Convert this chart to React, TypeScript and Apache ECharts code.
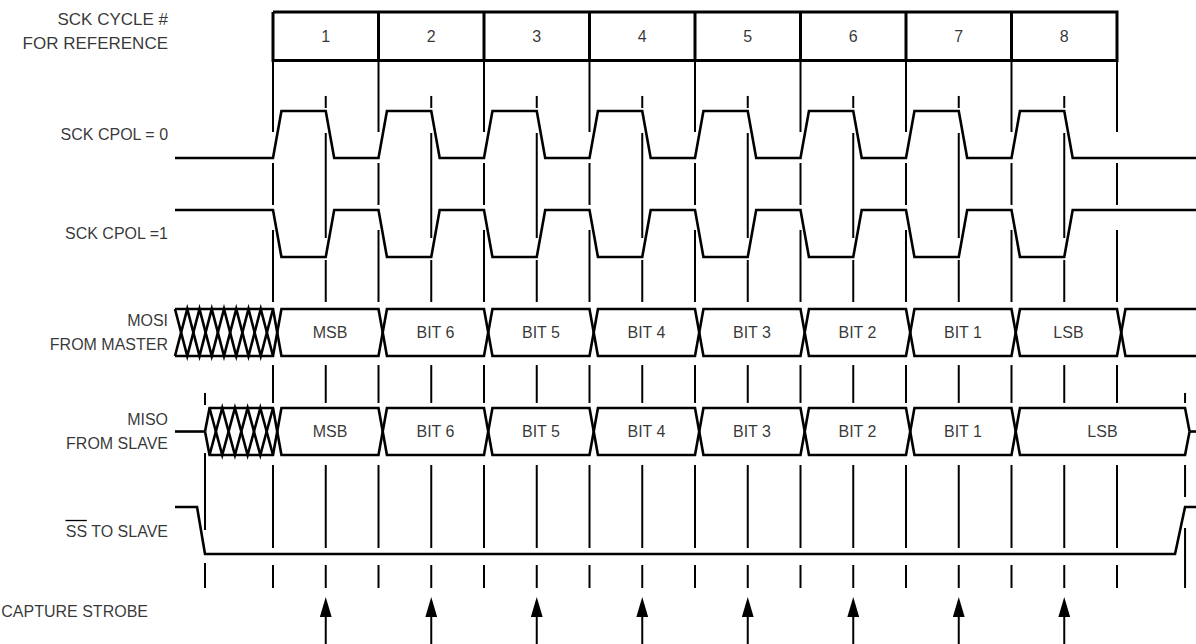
import React, { useEffect, useRef } from "react";
import * as echarts from "echarts";

// ---------------- data ----------------
const cycleNumbers = ["1", "2", "3", "4", "5", "6", "7", "8"];
const mosiLabels = ["MSB", "BIT 6", "BIT 5", "BIT 4", "BIT 3", "BIT 2", "BIT 1", "LSB"];
const misoLabels = ["MSB", "BIT 6", "BIT 5", "BIT 4", "BIT 3", "BIT 2", "BIT 1", "LSB"];
// times in SCK cycles (0 = start of cycle 1)
const cycleBoundaries = [0, 1, 2, 3, 4, 5, 6, 7, 8];
const sckLeadingEdges = [0, 1, 2, 3, 4, 5, 6, 7];
const sckTrailingEdges = [0.5, 1.5, 2.5, 3.5, 4.5, 5.5, 6.5, 7.5];
const captureStrobes = [0.5, 1.5, 2.5, 3.5, 4.5, 5.5, 6.5, 7.5];
const mosiTransitions = [0, 1, 2, 3, 4, 5, 6, 7, 8];
const misoTransitions = [0, 1, 2, 3, 4, 5, 6, 7];
const ssFall = [-0.72, -0.6445];
const ssRise = [8.55, 8.645];
const misoDrive = [-0.6445, 8.645];
const rowLabels = [
  "SCK CYCLE #\nFOR REFERENCE",
  "SCK CPOL = 0",
  "SCK CPOL =1",
  "MOSI\nFROM MASTER",
  "MISO\nFROM SLAVE",
  "SS TO SLAVE",
  "CAPTURE STROBE",
];

// ---------------- layout ----------------
const T_LEFT = -2.5877;
const T_RIGHT = 8.7488;
const V_TOP = -1.1212;
const V_BOTTOM = 5.3838;
const TRACE_START = -0.929;
const EDGE = 0.08;
const LEVEL = 0.475;
const OPEN_W = 0.043;
const LABEL_T = -0.995;
const STROBE_LABEL_T = -1.185;
const BOX_TOP = -1;
const BOX_BOTTOM = -0.51;
const ROW_SCK0 = 0;
const ROW_SCK1 = 1;
const ROW_MOSI = 2;
const ROW_MISO = 3;
const ROW_SS = 4;
const ARROW_TIP = 4.909;
const ARROW_BASE = 5.111;
const ARROW_HALF = 0.056;
const FONT = "'Liberation Sans', Arial, Helvetica, sans-serif";
const FONT_SIZE = 16;
const HEADER_FONT_SIZE = 17;

const boundarySegs = [
  [-0.515, 0.212],
  [0.525, 0.949],
  [1.202, 1.929],
  [2.566, 2.949],
  [3.576, 4.414],
  [4.586, 4.818],
];
const midSegs = [
  [-0.152, -0.03],
  [0.222, 1.283],
  [1.505, 1.929],
  [2.566, 2.949],
  [3.576, 4.414],
  [4.586, 4.818],
  [ARROW_BASE - 0.01, V_BOTTOM],
];
const ssStartSegs = [
  [2.848, 2.97],
  [3.455, 4.232],
  [4.566, 4.818],
];
const ssEndSegs = [
  [2.848, 2.949],
  [3.576, 3.899],
  [4.212, 4.818],
];

type P = [number, number];

function clockLine(row: number, idleHigh: boolean): P[] {
  const hi = row;
  const lo = row + LEVEL;
  const idle = idleHigh ? hi : lo;
  const act = idleHigh ? lo : hi;
  const pts: P[] = [[TRACE_START, idle]];
  sckLeadingEdges.forEach((lead, i) => {
    const trail = sckTrailingEdges[i];
    pts.push([lead, idle], [lead + EDGE, act], [trail, act], [trail + EDGE, idle]);
  });
  pts.push([T_RIGHT, idle]);
  return pts;
}

function busLines(row: number, transitions: number[], startA: P[], startB: P[]) {
  const top = row;
  const bot = row + LEVEL;
  const a: P[] = [...startA];
  const b: P[] = [...startB];
  let aTop = true;
  transitions.forEach((t) => {
    a.push([t, aTop ? top : bot], [t + EDGE, aTop ? bot : top]);
    b.push([t, aTop ? bot : top], [t + EDGE, aTop ? top : bot]);
    aTop = !aTop;
  });
  return { a, b, aTop };
}

function hatch(row: number, t0: number, t1: number, n: number): P[][] {
  const top = row;
  const bot = row + LEVEL;
  const z1: P[] = [];
  const z2: P[] = [];
  for (let i = 0; i <= n; i++) {
    const x = t0 + ((t1 - t0) * i) / n;
    z1.push([x, i % 2 === 0 ? top : bot]);
    z2.push([x, i % 2 === 0 ? bot : top]);
  }
  return [z1, z2];
}

function buildOption() {
  const traces: P[][] = [];
  traces.push(clockLine(ROW_SCK0, false));
  traces.push(clockLine(ROW_SCK1, true));

  // MOSI
  const mTop = ROW_MOSI;
  const mBot = ROW_MOSI + LEVEL;
  const mosi = busLines(ROW_MOSI, mosiTransitions, [[TRACE_START, mTop]], [[TRACE_START, mBot]]);
  mosi.a.push([T_RIGHT, mosi.aTop ? mTop : mBot]);
  mosi.b.push([T_RIGHT, mosi.aTop ? mBot : mTop]);
  traces.push(mosi.a, mosi.b);
  traces.push(...hatch(ROW_MOSI, TRACE_START, mosiTransitions[0], 8));

  // MISO
  const sTop = ROW_MISO;
  const sBot = ROW_MISO + LEVEL;
  const sMid = ROW_MISO + LEVEL / 2;
  const open = misoDrive[0];
  const close = misoDrive[1];
  traces.push([[TRACE_START, sMid], [open, sMid]]);
  const miso = busLines(
    ROW_MISO,
    misoTransitions,
    [[open, sMid], [open + OPEN_W, sTop]],
    [[open, sMid], [open + OPEN_W, sBot]]
  );
  miso.a.push([close, miso.aTop ? sTop : sBot], [close + OPEN_W, sMid]);
  miso.b.push([close, miso.aTop ? sBot : sTop], [close + OPEN_W, sMid]);
  traces.push(miso.a, miso.b);
  traces.push([[close + OPEN_W, sMid], [T_RIGHT, sMid]]);
  traces.push(...hatch(ROW_MISO, open + OPEN_W, misoTransitions[0], 5));

  // SS
  traces.push([
    [TRACE_START, ROW_SS],
    [ssFall[0], ROW_SS],
    [ssFall[1], ROW_SS + LEVEL],
    [ssRise[0], ROW_SS + LEVEL],
    [ssRise[1], ROW_SS],
    [T_RIGHT, ROW_SS],
  ]);

  // reference verticals
  const verticals: P[][] = [];
  cycleBoundaries.forEach((t) => boundarySegs.forEach(([y0, y1]) => verticals.push([[t, y0], [t, y1]])));
  captureStrobes.forEach((t) => midSegs.forEach(([y0, y1]) => verticals.push([[t, y0], [t, y1]])));
  ssStartSegs.forEach(([y0, y1]) => verticals.push([[ssFall[1], y0], [ssFall[1], y1]]));
  ssEndSegs.forEach(([y0, y1]) => verticals.push([[ssRise[1], y0], [ssRise[1], y1]]));

  // cycle box
  const first = cycleBoundaries[0];
  const last = cycleBoundaries[cycleBoundaries.length - 1];
  const box: P[][] = [
    [[first, BOX_TOP], [last, BOX_TOP], [last, BOX_BOTTOM], [first, BOX_BOTTOM], [first, BOX_TOP]],
  ];
  cycleBoundaries.slice(1, -1).forEach((t) => box.push([[t, BOX_TOP], [t, BOX_BOTTOM]]));

  const textItems: any[] = [];
  cycleNumbers.forEach((n, i) =>
    textItems.push({ name: n, value: [(cycleBoundaries[i] + cycleBoundaries[i + 1]) / 2, (BOX_TOP + BOX_BOTTOM) / 2] })
  );
  mosiLabels.forEach((n, i) =>
    textItems.push({ name: n, value: [(mosiTransitions[i] + EDGE + mosiTransitions[i + 1]) / 2, ROW_MOSI + LEVEL / 2] })
  );
  misoLabels.forEach((n, i) => {
    const end = i + 1 < misoTransitions.length ? misoTransitions[i + 1] : close;
    textItems.push({ name: n, value: [(misoTransitions[i] + EDGE + end) / 2, ROW_MISO + LEVEL / 2] });
  });

  const leftItems: any[] = [
    {
      name: rowLabels[0],
      value: [LABEL_T, (BOX_TOP + BOX_BOTTOM) / 2 - 0.045],
      label: { fontSize: HEADER_FONT_SIZE },
    },
    { name: rowLabels[1], value: [LABEL_T, ROW_SCK0 + LEVEL / 2] },
    { name: rowLabels[2], value: [LABEL_T, ROW_SCK1 + LEVEL / 2] },
    { name: rowLabels[3], value: [LABEL_T, ROW_MOSI + LEVEL / 2] },
    { name: rowLabels[4], value: [LABEL_T, ROW_MISO + LEVEL / 2] },
    { name: rowLabels[5], value: [LABEL_T, ROW_SS + LEVEL / 2 + 0.005] },
    { name: rowLabels[6], value: [STROBE_LABEL_T, 5.06] },
  ];

  const lineSeries = (data: P[][], width: number) => ({
    type: "lines",
    coordinateSystem: "cartesian2d",
    polyline: true,
    silent: true,
    symbol: "none",
    lineStyle: { color: "#000", width, opacity: 1, cap: "butt", join: "miter" },
    data: data.map((coords) => ({ coords })),
  });

  return {
    animation: false,
    backgroundColor: "#fff",
    grid: { left: 0, right: 0, top: 0, bottom: 0 },
    xAxis: { type: "value", min: T_LEFT, max: T_RIGHT, show: false },
    yAxis: { type: "value", min: V_TOP, max: V_BOTTOM, inverse: true, show: false },
    series: [
      lineSeries(verticals, 2),
      lineSeries(box, 3),
      lineSeries(traces, 2.6),
      {
        type: "custom",
        coordinateSystem: "cartesian2d",
        silent: true,
        data: captureStrobes.map((t) => [t, ARROW_TIP]),
        renderItem: (_p: any, api: any) => {
          const t = api.value(0);
          const tip = api.coord([t, ARROW_TIP]);
          const l = api.coord([t - ARROW_HALF, ARROW_BASE]);
          const r = api.coord([t + ARROW_HALF, ARROW_BASE]);
          return { type: "polygon", shape: { points: [tip, l, r] }, style: { fill: "#000" } };
        },
      },
      {
        type: "scatter",
        silent: true,
        symbolSize: 0,
        itemStyle: { color: "rgba(0,0,0,0)" },
        label: {
          show: true,
          position: "inside",
          formatter: "{b}",
          color: "#000",
          fontFamily: FONT,
          fontSize: FONT_SIZE,
        },
        data: textItems,
      },
      {
        type: "scatter",
        silent: true,
        symbolSize: 0,
        itemStyle: { color: "rgba(0,0,0,0)" },
        label: {
          show: true,
          position: "left",
          distance: 0,
          align: "right",
          formatter: "{b}",
          color: "#000",
          fontFamily: FONT,
          fontSize: FONT_SIZE,
          lineHeight: 24,
        },
        data: leftItems,
      },
    ],
  };
}

export default function App() {
  const ref = useRef<HTMLDivElement>(null);
  useEffect(() => {
    const el = ref.current!;
    const chart = echarts.init(el, undefined, { renderer: "svg" });
    chart.setOption(buildOption() as any);
    // overline on "SS"
    const ctx = document.createElement("canvas").getContext("2d")!;
    ctx.font = `${FONT_SIZE}px ${FONT}`;
    const full = ctx.measureText(rowLabels[5]).width;
    const ss = ctx.measureText("SS").width;
    const pt = chart.convertToPixel({ gridIndex: 0 }, [LABEL_T, ROW_SS + LEVEL / 2]) as number[];
    chart.setOption({
      graphic: [
        {
          type: "line",
          silent: true,
          shape: { x1: pt[0] - full, y1: pt[1] - 10, x2: pt[0] - full + ss, y2: pt[1] - 10 },
          style: { stroke: "#000", lineWidth: 1.3 },
        },
      ],
    });
    return () => chart.dispose();
  }, []);
  return (
    <div
      ref={ref}
      style={{ position: "fixed", left: 0, top: 0, width: 1196, height: 644, background: "#fff" }}
    />
  );
}
